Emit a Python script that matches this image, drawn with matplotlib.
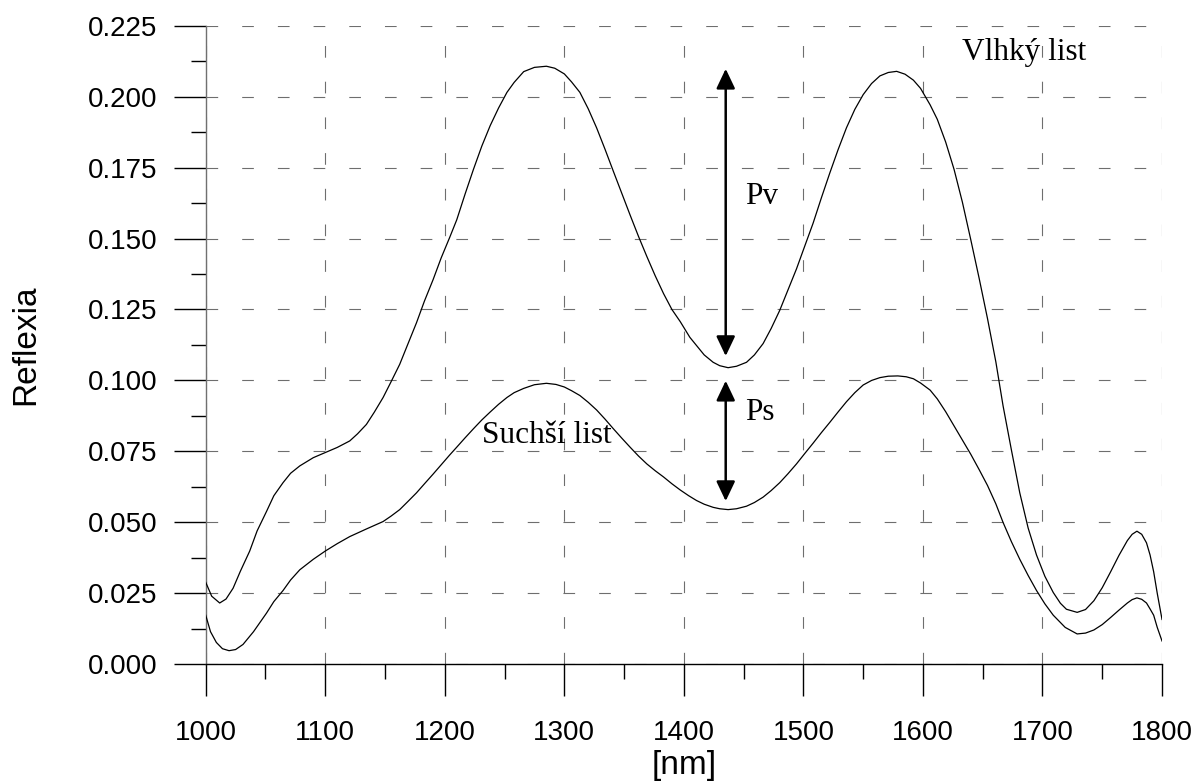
import matplotlib
matplotlib.use("Agg")
import matplotlib.pyplot as plt
from matplotlib.ticker import MultipleLocator, FormatStrFormatter

# wavelength [nm] and reflectance
wl_wet = [1000, 1005, 1011.7, 1017, 1022.9, 1029, 1036.8, 1043, 1050.8, 1057,
          1064.7, 1071, 1078.7, 1090, 1100, 1110, 1120.5, 1127, 1134.4, 1141,
          1148.4, 1155, 1162.3, 1169, 1176.3, 1183, 1190.2, 1197, 1204.2, 1210,
          1217, 1224, 1231, 1238, 1245, 1252, 1258, 1266, 1275, 1285,
          1292, 1300, 1306, 1313, 1320, 1327, 1334, 1341, 1348, 1355,
          1362, 1369, 1376, 1383, 1390, 1397, 1405, 1410.6, 1417, 1424.5,
          1430, 1437, 1444, 1452.4, 1459, 1466.3, 1473, 1480.2, 1487, 1494.2,
          1501, 1508.1, 1515, 1522, 1529, 1536, 1543, 1550, 1557, 1564,
          1571, 1578, 1585, 1592, 1598, 1606, 1612, 1619, 1626, 1633,
          1640, 1647, 1654, 1661, 1667, 1674, 1681, 1688, 1695, 1702,
          1709, 1715, 1720, 1729, 1736, 1743, 1750, 1757, 1764, 1771,
          1775, 1779, 1783, 1787, 1790, 1793, 1796, 1800]
refl_wet = [0.0289, 0.0240, 0.0216, 0.0230, 0.0268, 0.0328, 0.0399, 0.0470, 0.0538, 0.0594,
            0.0640, 0.0673, 0.0699, 0.0728, 0.0746, 0.0764, 0.0787, 0.0812, 0.0845, 0.0888,
            0.0940, 0.0995, 0.1057, 0.1127, 0.1203, 0.1280, 0.1355, 0.1432, 0.1505, 0.1566,
            0.1657, 0.1744, 0.1826, 0.1898, 0.1960, 0.2015, 0.2050, 0.2088, 0.2103, 0.2107,
            0.2100, 0.2080, 0.2052, 0.2015, 0.1957, 0.1890, 0.1815, 0.1737, 0.1660, 0.1583,
            0.1508, 0.1437, 0.1369, 0.1306, 0.1250, 0.1207, 0.1152, 0.1123, 0.1090, 0.1064,
            0.1052, 0.1045, 0.1050, 0.1064, 0.1090, 0.1130, 0.1183, 0.1247, 0.1318, 0.1393,
            0.1472, 0.1554, 0.1643, 0.1730, 0.1813, 0.1890, 0.1955, 0.2007, 0.2046, 0.2073,
            0.2085, 0.2089, 0.2079, 0.2058, 0.2029, 0.1971, 0.1920, 0.1840, 0.1744, 0.1628,
            0.1496, 0.1360, 0.1218, 0.1065, 0.0911, 0.0755, 0.0604, 0.0480, 0.0385, 0.0310,
            0.0253, 0.0215, 0.0194, 0.0183, 0.0193, 0.0224, 0.0270, 0.0326, 0.0384, 0.0436,
            0.0458, 0.0469, 0.0458, 0.0428, 0.0385, 0.0326, 0.0250, 0.0158]

wl_dry = [1000, 1004, 1008.9, 1014, 1019.5, 1025, 1031.2, 1040, 1050.8, 1057,
          1064.7, 1071, 1078.7, 1090, 1100, 1110, 1120.5, 1134, 1148.4, 1155,
          1162.3, 1169, 1176.3, 1183, 1190.2, 1197, 1204, 1210, 1217, 1224,
          1231, 1238, 1245, 1252, 1258, 1266, 1275, 1285, 1293, 1300,
          1306, 1313, 1320, 1327, 1334, 1341, 1348, 1355, 1362, 1369,
          1376, 1383, 1390, 1397, 1404, 1410.6, 1417, 1424.5, 1430, 1437,
          1444, 1452.4, 1459, 1466.3, 1473, 1480.2, 1487, 1494.2, 1501, 1508.1,
          1515, 1522, 1529, 1536, 1543, 1550, 1557, 1564, 1571, 1579,
          1586, 1592, 1598, 1606, 1612, 1619, 1626, 1633, 1640, 1647,
          1654, 1661, 1667, 1674, 1681, 1688, 1695, 1702, 1709, 1719,
          1729, 1736, 1743, 1750, 1757, 1764, 1771, 1775, 1779, 1783,
          1787, 1790, 1793, 1796, 1800]
refl_dry = [0.0173, 0.0115, 0.0077, 0.0055, 0.0048, 0.0052, 0.0070, 0.0115, 0.0180, 0.0221,
            0.0260, 0.0297, 0.0333, 0.0370, 0.0399, 0.0425, 0.0450, 0.0476, 0.0503, 0.0522,
            0.0545, 0.0573, 0.0604, 0.0636, 0.0670, 0.0703, 0.0737, 0.0765, 0.0798, 0.0830,
            0.0861, 0.0889, 0.0916, 0.0940, 0.0957, 0.0972, 0.0985, 0.0990, 0.0986, 0.0977,
            0.0964, 0.0947, 0.0923, 0.0896, 0.0864, 0.0830, 0.0797, 0.0765, 0.0734, 0.0706,
            0.0682, 0.0660, 0.0636, 0.0614, 0.0594, 0.0577, 0.0564, 0.0553, 0.0548, 0.0545,
            0.0548, 0.0557, 0.0570, 0.0589, 0.0612, 0.0640, 0.0671, 0.0706, 0.0742, 0.0779,
            0.0816, 0.0852, 0.0889, 0.0925, 0.0957, 0.0984, 0.1000, 0.1010, 0.1015, 0.1016,
            0.1013, 0.1006, 0.0991, 0.0966, 0.0935, 0.0890, 0.0840, 0.0790, 0.0740, 0.0686,
            0.0630, 0.0565, 0.0500, 0.0432, 0.0370, 0.0313, 0.0260, 0.0213, 0.0173, 0.0130,
            0.0107, 0.0110, 0.0121, 0.0140, 0.0165, 0.0191, 0.0216, 0.0228, 0.0234, 0.0229,
            0.0216, 0.0195, 0.0173, 0.0130, 0.0082]

# depth arrows (x, top, bottom)
pv_arrow = (1435, 0.2098, 0.1086)
ps_arrow = (1435, 0.0999, 0.0575)

plt.rcParams['font.family'] = 'Liberation Sans'
plt.rcParams['lines.scale_dashes'] = False

fig = plt.figure(figsize=(11.96, 7.82), dpi=100)
ax = fig.add_axes([0.172, 0.1505, 0.7996, 0.8167])

ax.plot(wl_wet, refl_wet, color='k', lw=0.9, zorder=3)
ax.plot(wl_dry, refl_dry, color='k', lw=0.9, zorder=3)

ax.set_xlim(1000, 1800)
ax.set_ylim(0, 0.225)
ax.xaxis.set_major_locator(MultipleLocator(100))
ax.xaxis.set_minor_locator(MultipleLocator(50))
ax.yaxis.set_major_locator(MultipleLocator(0.025))
ax.yaxis.set_minor_locator(MultipleLocator(0.0125))
ax.yaxis.set_major_formatter(FormatStrFormatter('%.3f'))

ax.grid(True, which='major', color='#6e6e6e', lw=0.8, linestyle=(0, (8.4, 17.3)))
ax.set_axisbelow(True)

for s in ['top', 'right']:
    ax.spines[s].set_visible(False)
ax.spines['left'].set_color('#707070')
ax.spines['left'].set_linewidth(1)
ax.spines['bottom'].set_color('k')
ax.spines['bottom'].set_linewidth(1)

ax.tick_params(which='major', direction='out', length=23, width=1, labelsize=20, color='k')
ax.tick_params(which='minor', direction='out', length=11, width=1, color='k')
ax.tick_params(axis='y', which='major', pad=12)
ax.tick_params(axis='x', which='major', pad=17)

ax.set_xlabel('[nm]', fontsize=24, va='top')
ax.xaxis.set_label_coords(0.5, -0.134)
ax.set_ylabel('Reflexia', fontsize=24)
ax.yaxis.set_label_coords(-0.172, 0.5)

arrow_style = dict(arrowstyle='<|-|>,head_length=0.8,head_width=0.38', color='k',
                   lw=1.8, shrinkA=0, shrinkB=0, mutation_scale=15)
for x, top, bot in [pv_arrow, ps_arrow]:
    ax.annotate('', xy=(x, top), xytext=(x, bot), arrowprops=arrow_style, zorder=4)

serif = dict(family='Liberation Serif', fontsize=22.5, va='baseline', ha='left')
ax.text(1632.6, 0.2128, 'Vlhký list', **serif)
ax.text(1230.8, 0.0778, 'Suchší list', **serif)
ax.text(1451, 0.162, 'Pv', **serif)
ax.text(1451, 0.086, 'Ps', **serif)

fig.savefig('out.png', dpi=100)
